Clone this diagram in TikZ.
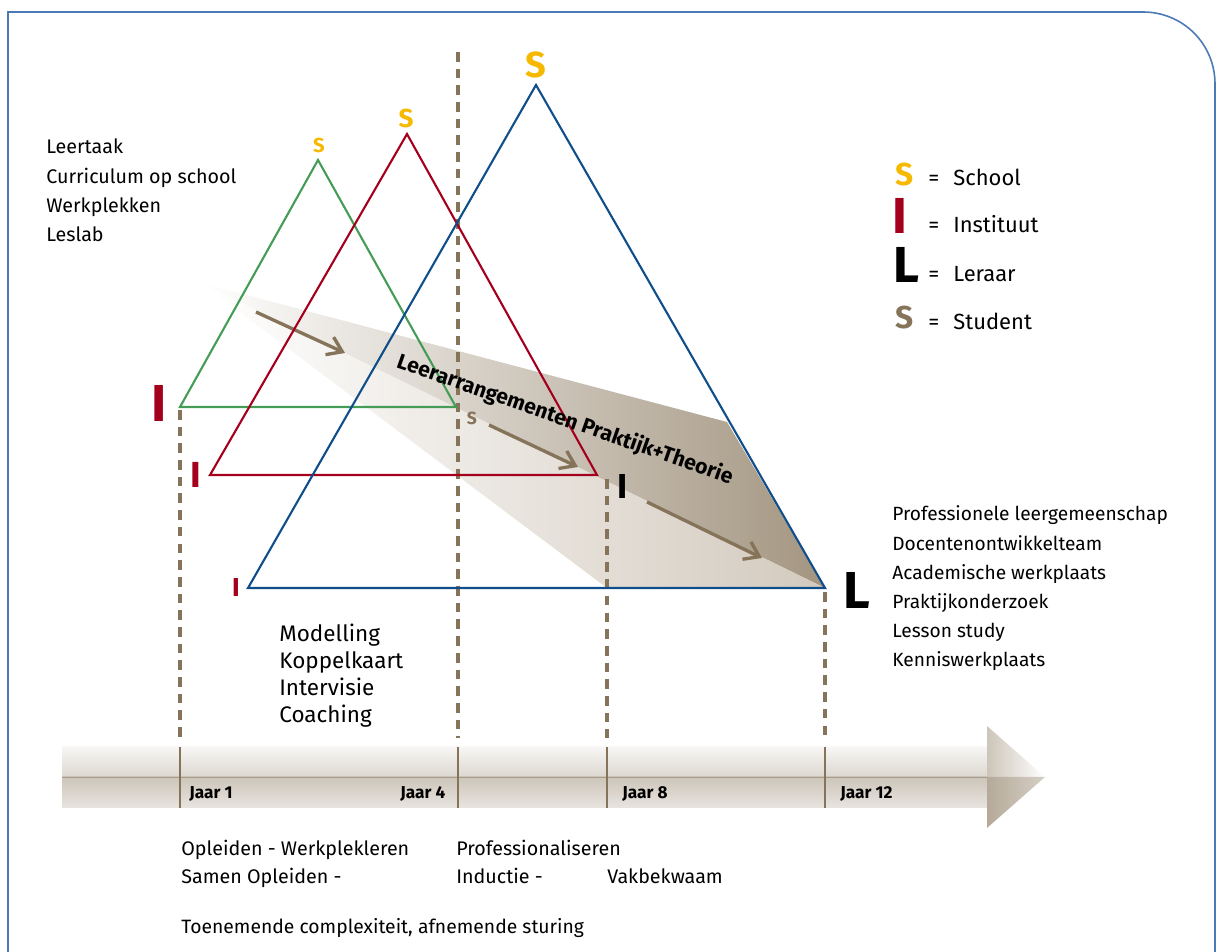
\documentclass[tikz,border=0pt]{standalone}
\usepackage{fontspec}
\setmainfont{Fira Sans}
\usetikzlibrary{arrows.meta}

\definecolor{geel}{HTML}{F7B900}
\definecolor{rood}{HTML}{A4001D}
\definecolor{groen}{HTML}{449C57}
\definecolor{blauw}{HTML}{104E8B}
\definecolor{bruin}{HTML}{85735A}
\definecolor{kader}{HTML}{4A7AB5}
\definecolor{taupe}{HTML}{A39580}
\definecolor{taupelicht}{HTML}{D3CABE}

\begin{document}
\begin{tikzpicture}[x=0.02cm,y=-0.02cm
  ,driehoek/.style={line width=1.2pt,line join=miter}
  ,streep/.style={bruin,line width=2pt,dash pattern=on 5.5pt off 4pt}
  ,pijl/.style={bruin,line width=1.9pt,-{Straight Barb[length=8pt,width=11pt]}}
  ,lijst/.style={anchor=base west,inner sep=0pt,font=\fontsize{11.2}{13}\selectfont}
  ,letter/.style={inner sep=0pt,font=\bfseries\fontsize{#1}{#1}\selectfont}
  ,jaar/.style={anchor=base west,inner sep=0pt,font=\bfseries\fontsize{9.8}{11}\selectfont}
  ]
\useasboundingbox (0,0) rectangle (1218,952);

% kader
\draw[kader,line width=0.9pt] (8,952) -- (8,12) -- (1143,12)
  .. controls (1183,12) and (1215,44) .. (1215,84) -- (1215,952);

% hoekpunten
\coordinate (gS) at (318,160); \coordinate (gI) at (180,407); \coordinate (gL) at (456,407);
\coordinate (rS) at (407,134); \coordinate (rI) at (210,475); \coordinate (rL) at (597,475);
\coordinate (bS) at (536,85);  \coordinate (bI) at (248,588); \coordinate (bL) at (825,588);

% band leerarrangementen
\coordinate (band0) at (201,283);
\coordinate (band1) at (727,422);
\coordinate (band2) at (607,588);
\shade[left color=white,right color=taupe] (band0) -- (band1) -- (bL) -- cycle;
\shade[left color=white,right color=taupelicht] (band0) -- (bL) -- (band2) -- cycle;

\coordinate (p1a) at (256,312); \coordinate (p1b) at (345,353);
\coordinate (p2a) at (489,425); \coordinate (p2b) at (578,467);
\coordinate (p3a) at (647,502); \coordinate (p3b) at (762,558);
\draw[pijl] (p1a) -- (p1b);
\draw[pijl] (p2a) -- (p2b);
\draw[pijl] (p3a) -- (p3b);

% jaarlijnen
\foreach \x/\y in {180/410,458/52,607/479,825/592}
  \draw[streep] (\x,\y) -- (\x,738);

% driehoeken
\draw[driehoek,groen] (gS) -- (gI) -- (gL) -- cycle;
\draw[driehoek,rood] (rS) -- (rI) -- (rL) -- cycle;
\draw[driehoek,blauw] (bS) -- (bI) -- (bL) -- cycle;

\node[letter=11.5,text=geel] (sg) at (319,146) {S};
\node[letter=14.8,text=geel] (sr) at (406,118) {S};
\node[letter=20.6,text=geel] (sb) at (536,64.5) {S};
\node[letter=29.6,text=rood] (ig) at (159,403) {I};
\node[letter=20.6,text=rood] (ir) at (196,474.5) {I};
\node[letter=14.8,text=rood] (ib) at (236,587) {I};
\node[letter=10,text=bruin] (st) at (472,418) {S};
\node[letter=19.7] (ins) at (623,487) {I};
\node[letter=29.6] (ler) at (857,590) {L};

\node[font=\bfseries\fontsize{12.1}{14}\selectfont,inner sep=0pt,rotate=-19.3]
  (bandtekst) at (565,420) {Leerarrangementen Praktijk+Theorie};

% legenda
\node[letter=18,text=geel] (legS) at (905,175) {S};
\node[letter=28.8,text=rood] (legI) at (900,215.5) {I};
\node[letter=28.8] (legL) at (906,264.5) {L};
\node[letter=18,text=bruin] (legs) at (905,318) {S};
\foreach \t/\y [count=\i] in {School/186,Instituut/233,Leraar/282,Student/330}{
  \node[lijst,font=\fontsize{12.5}{14}\selectfont] (is\i) at (928,\y) {=};
  \node[lijst,font=\fontsize{12.5}{14}\selectfont] (leg\i) at (953,\y) {\t};
}

% lijsten
\foreach \t [count=\i] in {Leertaak,Curriculum op school,Werkplekken,Leslab}
  \node[lijst] (links\i) at (46,{154+29.3*(\i-1)}) {\t};
\foreach \t [count=\i] in {Professionele leergemeenschap,Docentenontwikkelteam,
    Academische werkplaats,Praktijkonderzoek,Lesson study,Kenniswerkplaats}
  \node[lijst,font=\fontsize{10.9}{13}\selectfont] (rechts\i) at (892,{521+29.2*(\i-1)}) {\t};
\foreach \t [count=\i] in {Modelling,Koppelkaart,Intervisie,Coaching}
  \node[lijst,font=\fontsize{12.8}{14}\selectfont] (midden\i) at (279,{642+27*(\i-1)}) {\t};

% tijdlijn
\shade[top color=white!92!taupe,bottom color=white!62!taupe] (62,747) rectangle (987,777);
\shade[top color=white!45!taupe,bottom color=white!75!taupe] (62,777) rectangle (987,808);
\shade[left color=white!45!taupe,right color=white] (987,726) -- (1045,777) -- (987,777) -- cycle;
\shade[left color=white!20!taupe,right color=white!55!taupe] (987,777) -- (1045,777) -- (987,828) -- cycle;
\draw[bruin!70,line width=0.5pt] (62,777) -- (987,777);
\foreach \x in {180,458,607,825}
  \draw[bruin,line width=1.4pt] (\x,747) -- (\x,808);
\node[jaar] (jaar1) at (189,799) {Jaar 1};
\node[jaar] (jaar4) at (400,799) {Jaar 4};
\node[jaar] (jaar8) at (622,799) {Jaar 8};
\node[jaar] (jaar12) at (840,799) {Jaar 12};

% onder
\node[lijst] (ond1) at (181,855) {Opleiden - Werkplekleren};
\node[lijst] (ond2) at (181,884) {Samen Opleiden -};
\node[lijst] (ond3) at (456,855) {Professionaliseren};
\node[lijst] (ond4) at (456,884) {Inductie -};
\node[lijst] (ond5) at (607,884) {Vakbekwaam};
\node[lijst,font=\fontsize{11}{13}\selectfont] (ond6) at (181,933) {Toenemende complexiteit, afnemende sturing};
\end{tikzpicture}
\end{document}
